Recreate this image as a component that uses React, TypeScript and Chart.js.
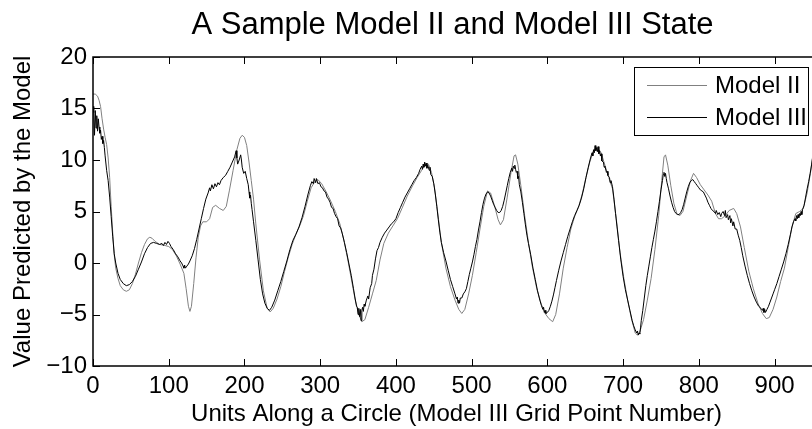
import React, { useEffect, useRef } from 'react';
import { Chart, registerables } from 'chart.js';

Chart.register(...registerables);

const titleText = 'A Sample Model II and Model III State';
const xLabel = 'Units Along a Circle (Model III Grid Point Number)';
const yLabel = 'Value Predicted by the Model';
const seriesNames = ['Model II', 'Model III'];
const seriesColors = ['#808080', '#000000'];

const xTicks = [0, 100, 200, 300, 400, 500, 600, 700, 800, 900];
const yTicks = [-10, -5, 0, 5, 10, 15, 20];
const xRange = [0, 960];
const yRange = [-10, 20];

const model2X = [0, 3, 6, 8, 10, 12, 14, 16, 18, 20, 22, 24, 26, 28, 30, 33, 36, 40, 44, 48, 52, 56, 60, 64, 68, 72, 75, 78, 82, 88, 95, 100, 105, 110, 115, 120, 123, 126, 128, 130, 133, 136, 139, 142, 145, 150, 154, 158, 162, 167, 172, 176, 180, 185, 190, 194, 197, 200, 203, 206, 209, 212, 215, 220, 225, 230, 234, 238, 243, 248, 253, 258, 263, 268, 273, 278, 283, 288, 293, 297, 302, 308, 314, 320, 326, 331, 336, 341, 346, 351, 355, 359, 364, 369, 374, 379, 384, 390, 396, 402, 408, 415, 422, 428, 434, 439, 443, 447, 451, 455, 460, 466, 472, 478, 483, 487, 491, 496, 501, 506, 511, 516, 521, 525, 530, 535, 538, 542, 547, 552, 556, 558, 561, 565, 570, 575, 580, 586, 592, 597, 602, 607, 611, 616, 621, 626, 631, 636, 641, 646, 651, 656, 661, 666, 671, 676, 681, 686, 691, 696, 701, 706, 711, 716, 719, 722, 727, 732, 737, 742, 747, 751, 754, 756, 759, 763, 767, 771, 775, 779, 784, 789, 793, 797, 802, 807, 812, 817, 822, 826, 830, 835, 840, 846, 850, 855, 860, 866, 872, 878, 884, 889, 893, 898, 903, 908, 913, 918, 923, 928, 933, 938, 943, 948, 953, 957, 960];
const model2Y = [16.4, 16.4, 16.2, 15.8, 15.2, 14.0, 13.0, 12.2, 11.5, 10.2, 8.3, 5.5, 3.0, 0.8, -0.5, -1.5, -2.2, -2.6, -2.75, -2.6, -2.0, -1.1, 0.0, 1.0, 1.8, 2.35, 2.5, 2.4, 2.1, 1.8, 1.7, 1.6, 1.3, 0.7, -0.1, -1.0, -2.5, -4.2, -4.7, -4.2, -2.0, 0.5, 2.5, 3.6, 4.0, 4.0, 4.3, 5.4, 5.6, 5.3, 5.1, 5.5, 7.0, 9.0, 11.0, 12.1, 12.4, 12.2, 11.4, 9.8, 8.0, 6.2, 3.8, 0.3, -2.7, -4.4, -4.75, -4.4, -3.5, -2.3, -0.8, 0.6, 1.8, 2.8, 3.6, 4.6, 6.0, 7.3, 7.9, 8.1, 7.7, 6.9, 6.0, 5.0, 3.8, 2.3, 0.5, -1.5, -3.5, -5.0, -5.7, -5.5, -4.3, -3.0, -1.7, 0.3, 1.9, 2.9, 3.6, 4.3, 5.3, 6.5, 7.5, 8.3, 9.0, 9.6, 9.6, 8.8, 7.3, 5.0, 2.0, -0.5, -2.3, -3.6, -4.5, -4.9, -4.5, -3.0, -1.2, 1.0, 3.3, 5.5, 7.0, 6.8, 5.6, 4.2, 3.7, 4.2, 6.4, 8.8, 10.4, 10.5, 9.6, 7.5, 4.6, 2.0, -0.3, -2.5, -4.0, -4.9, -5.4, -5.7, -5.0, -3.0, -0.5, 1.5, 3.3, 4.5, 5.4, 6.7, 8.3, 9.8, 10.9, 11.2, 10.7, 9.5, 8.3, 7.2, 4.3, 1.0, -1.5, -3.6, -5.4, -6.8, -7.0, -6.7, -5.5, -3.6, -1.5, 1.3, 4.6, 8.0, 10.3, 10.5, 9.5, 7.5, 5.8, 4.8, 4.6, 5.0, 6.5, 8.0, 8.7, 8.3, 7.6, 7.1, 6.6, 6.0, 4.8, 4.3, 4.3, 4.6, 5.1, 5.3, 4.8, 3.5, 1.5, -0.8, -2.5, -3.9, -4.9, -5.4, -5.3, -4.5, -3.3, -1.8, -0.5, 1.5, 3.5, 4.8, 5.0, 5.3, 6.8, 9.0, 12.0, 14.8, 16.4];

const model3X = [0, 1, 2, 3, 4, 5, 6, 7, 8, 9, 10, 11, 12, 13, 14, 15, 16, 18, 20, 22, 24, 26, 28, 30, 33, 36, 40, 44, 48, 52, 56, 60, 64, 68, 72, 76, 80, 84, 88, 91, 93, 95, 97, 99, 101, 103, 106, 109, 112, 115, 117, 119, 120, 121, 122, 124, 126, 128, 131, 134, 137, 140, 143, 146, 149, 152, 154, 155, 157, 159, 161, 163, 165, 167, 169, 172, 175, 178, 181, 184, 187, 189, 190, 191, 193, 195, 196, 197, 199, 201, 203, 205, 206, 207, 208, 209, 210, 212, 215, 218, 221, 224, 227, 230, 233, 236, 240, 244, 248, 252, 256, 260, 264, 268, 272, 276, 280, 284, 287, 289, 291, 292, 294, 295, 297, 299, 301, 303, 305, 307, 309, 311, 313, 315, 317, 319, 321, 323, 325, 327, 329, 332, 335, 338, 341, 344, 346, 348, 349, 350, 351, 352, 353, 354, 355, 356, 357, 358, 359, 361, 363, 364, 366, 368, 369, 371, 373, 375, 377, 379, 382, 385, 388, 391, 394, 397, 400, 403, 406, 409, 412, 415, 418, 421, 424, 427, 430, 432, 434, 435, 436, 437, 438, 439, 440, 441, 442, 444, 445, 446, 448, 450, 452, 454, 456, 458, 460, 463, 466, 469, 472, 475, 478, 480, 481, 482, 483, 484, 485, 487, 489, 491, 493, 495, 497, 499, 501, 503, 505, 507, 509, 511, 513, 515, 517, 519, 521, 523, 525, 527, 529, 531, 533, 535, 537, 539, 541, 543, 545, 547, 549, 551, 553, 554, 555, 556, 557, 558, 559, 560, 561, 562, 563, 565, 567, 569, 571, 573, 575, 578, 581, 584, 587, 590, 592, 594, 595, 596, 597, 598, 600, 602, 604, 606, 608, 610, 612, 615, 618, 621, 624, 627, 630, 633, 636, 639, 642, 645, 648, 651, 654, 657, 659, 660, 661, 662, 663, 664, 665, 666, 667, 668, 669, 670, 671, 672, 674, 675, 676, 678, 679, 680, 682, 683, 684, 686, 688, 690, 692, 694, 697, 700, 703, 706, 709, 712, 714, 716, 718, 719, 720, 721, 722, 723, 724, 726, 728, 730, 732, 734, 736, 738, 740, 742, 744, 746, 748, 750, 752, 753, 754, 755, 756, 757, 758, 760, 762, 764, 766, 768, 770, 772, 774, 776, 778, 780, 782, 784, 786, 788, 790, 792, 794, 796, 798, 800, 802, 804, 806, 808, 810, 812, 814, 816, 818, 820, 822, 823, 825, 827, 829, 830, 832, 834, 835, 836, 838, 839, 841, 842, 843, 845, 846, 848, 850, 852, 854, 856, 858, 861, 864, 867, 870, 873, 876, 879, 882, 884, 885, 886, 887, 888, 890, 892, 894, 896, 898, 900, 903, 906, 909, 912, 915, 918, 921, 923, 925, 927, 928, 929, 930, 931, 932, 933, 934, 935, 936, 937, 939, 941, 943, 945, 947, 949, 951, 953, 955, 957, 959, 960];
const model3Y = [15.2, 14.6, 12.4, 14.8, 13.1, 14.3, 12.8, 14.0, 13.2, 12.6, 12.9, 12.0, 12.3, 11.6, 11.9, 11.2, 10.4, 9.0, 8.0, 6.4, 4.5, 2.6, 0.9, 0.0, -1.0, -1.6, -2.0, -2.2, -2.1, -1.8, -1.3, -0.6, 0.1, 0.9, 1.5, 1.9, 2.0, 1.9, 1.8, 1.9, 1.7, 2.0, 1.8, 2.1, 1.9, 1.6, 1.3, 0.9, 0.6, 0.2, 0.0, -0.3, -0.5, -0.2, -0.5, -0.3, -0.1, 0.2, 0.7, 1.4, 2.3, 3.3, 4.3, 5.3, 6.2, 6.8, 7.3, 7.0, 7.6, 7.2, 7.7, 7.4, 7.8, 7.6, 8.0, 8.3, 8.5, 8.9, 9.3, 9.8, 10.3, 10.9, 10.2, 9.6, 10.0, 10.5, 10.0, 9.3, 8.7, 8.9, 8.2, 7.6, 6.9, 6.3, 6.6, 5.8, 5.2, 4.0, 2.2, 0.3, -1.6, -3.0, -3.9, -4.4, -4.6, -4.3, -3.6, -2.7, -1.8, -0.8, 0.2, 1.3, 2.2, 2.8, 3.5, 4.4, 5.5, 6.7, 7.5, 7.9, 7.7, 8.2, 7.8, 8.2, 7.7, 7.8, 7.4, 7.3, 7.0, 6.9, 6.4, 6.2, 5.9, 5.4, 5.3, 4.8, 4.5, 4.3, 3.6, 3.4, 2.9, 2.0, 1.0, -0.1, -1.2, -2.5, -3.4, -4.2, -4.3, -5.0, -4.4, -5.2, -4.5, -5.6, -4.6, -4.3, -4.7, -4.0, -4.2, -3.6, -3.2, -3.5, -2.4, -2.0, -1.2, -0.6, 0.4, 1.2, 1.5, 2.0, 2.5, 2.9, 3.2, 3.5, 3.8, 4.0, 4.3, 4.9, 5.4, 5.9, 6.4, 6.8, 7.2, 7.6, 8.0, 8.3, 8.7, 9.1, 9.4, 9.1, 9.6, 9.3, 9.8, 9.4, 9.7, 9.2, 9.5, 9.0, 9.3, 8.6, 8.4, 7.7, 6.7, 5.5, 4.2, 3.0, 2.0, 1.0, 0.2, -0.7, -1.6, -2.3, -3.0, -3.5, -3.3, -3.9, -3.6, -3.9, -3.4, -3.4, -3.0, -2.8, -2.5, -1.8, -1.1, -0.5, 0.1, 0.8, 1.6, 2.3, 3.2, 4.0, 4.9, 5.7, 6.3, 6.7, 6.9, 6.8, 6.5, 6.1, 5.7, 5.4, 5.1, 4.9, 4.9, 5.1, 5.5, 6.1, 6.8, 7.5, 8.2, 8.8, 9.2, 8.9, 9.4, 9.2, 9.5, 9.1, 8.8, 8.9, 8.2, 8.4, 7.6, 6.9, 5.9, 4.8, 3.7, 2.7, 1.9, 0.8, -0.5, -1.6, -2.7, -3.6, -4.1, -4.5, -4.3, -4.8, -4.6, -4.9, -4.8, -4.6, -4.2, -3.7, -3.1, -2.4, -1.7, -0.7, 0.2, 1.0, 1.8, 2.6, 3.3, 4.0, 4.6, 5.1, 5.6, 6.3, 7.2, 8.3, 9.3, 10.2, 10.7, 10.4, 11.0, 10.7, 11.4, 10.9, 11.2, 10.8, 11.3, 10.6, 10.9, 10.4, 10.6, 9.9, 9.8, 9.3, 9.4, 8.8, 8.9, 8.5, 8.3, 7.8, 8.0, 7.4, 6.2, 4.8, 3.5, 2.2, 0.3, -1.3, -2.6, -3.6, -4.6, -5.6, -6.1, -6.5, -6.8, -6.6, -7.0, -6.8, -6.9, -6.3, -5.6, -4.6, -3.4, -2.2, -1.2, -0.3, 0.6, 1.5, 2.3, 3.1, 4.0, 5.0, 6.0, 7.1, 8.0, 8.6, 8.8, 8.4, 8.7, 8.2, 7.8, 7.2, 6.5, 5.9, 5.4, 5.0, 4.8, 4.7, 4.7, 4.9, 5.2, 5.7, 6.3, 6.9, 7.4, 7.8, 8.0, 8.1, 7.9, 7.7, 7.5, 7.3, 7.1, 7.0, 6.9, 6.6, 6.3, 5.9, 5.6, 5.3, 5.1, 5.0, 4.8, 5.1, 4.7, 4.9, 4.5, 4.8, 5.0, 4.6, 5.1, 4.4, 4.7, 4.2, 4.6, 3.9, 4.3, 3.6, 4.0, 3.3, 3.3, 2.7, 2.2, 1.5, 0.7, -0.3, -1.2, -2.0, -2.7, -3.3, -3.8, -4.2, -4.4, -4.6, -4.4, -4.8, -4.5, -4.8, -4.5, -4.2, -3.8, -3.4, -3.0, -2.6, -2.0, -1.3, -0.6, 0.1, 0.9, 1.8, 2.8, 3.5, 4.0, 4.3, 4.1, 4.6, 4.3, 4.7, 4.4, 4.8, 4.6, 5.0, 4.7, 5.2, 5.6, 6.4, 7.2, 7.9, 8.7, 9.6, 10.6, 11.7, 12.8, 13.8, 14.8, 15.2];

const FONT = '"Liberation Sans", Arial, Helvetica, sans-serif';

const toPoints = (xs: number[], ys: number[]) => xs.map((x, i) => ({ x, y: ys[i] }));
const fmt = (v: number) => (v < 0 ? '\u2212' + Math.abs(v) : String(v));

const matlabAxes = {
  id: 'matlabAxes',
  afterDraw(chart: any) {
    const { ctx, chartArea, scales } = chart;
    const { left, right, top, bottom } = chartArea;
    ctx.save();
    // box
    ctx.strokeStyle = '#000';
    ctx.lineWidth = 1.5;
    ctx.strokeRect(left, top, right - left, bottom - top);
    // inward ticks
    const tl = 7;
    ctx.lineWidth = 1;
    ctx.beginPath();
    xTicks.forEach((v) => {
      const px = Math.round(scales.x.getPixelForValue(v)) + 0.5;
      ctx.moveTo(px, bottom);
      ctx.lineTo(px, bottom - tl);
      ctx.moveTo(px, top);
      ctx.lineTo(px, top + tl);
    });
    yTicks.forEach((v) => {
      const py = Math.round(scales.y.getPixelForValue(v)) + 0.5;
      ctx.moveTo(left, py);
      ctx.lineTo(left + tl, py);
      ctx.moveTo(right, py);
      ctx.lineTo(right - tl, py);
    });
    ctx.stroke();
    // title
    ctx.fillStyle = '#000';
    ctx.font = `31px ${FONT}`;
    ctx.textAlign = 'center';
    ctx.textBaseline = 'alphabetic';
    ctx.fillText(titleText, (left + right) / 2 - 4, 34);
    // legend
    const bx = right - 186;
    const by = top + 9.5;
    const bw = 174;
    const bh = 68;
    ctx.fillStyle = '#fff';
    ctx.fillRect(bx, by, bw, bh);
    ctx.strokeStyle = '#000';
    ctx.lineWidth = 1;
    ctx.strokeRect(Math.round(bx) + 0.5, Math.round(by) + 0.5, bw, bh);
    ctx.font = `24px ${FONT}`;
    ctx.textAlign = 'left';
    ctx.textBaseline = 'middle';
    seriesNames.forEach((name, i) => {
      const ly = Math.round(by + 18 + i * 32) + 0.5;
      ctx.strokeStyle = seriesColors[i];
      ctx.beginPath();
      ctx.moveTo(bx + 13, ly);
      ctx.lineTo(bx + 73, ly);
      ctx.stroke();
      ctx.fillStyle = '#000';
      ctx.fillText(name, bx + 81, ly + 1);
    });
    ctx.restore();
  },
};

export default function App() {
  const ref = useRef<HTMLCanvasElement | null>(null);
  useEffect(() => {
    if (!ref.current) return;
    const chart = new Chart(ref.current, {
      type: 'line',
      data: {
        datasets: [
          {
            label: seriesNames[0],
            data: toPoints(model2X, model2Y),
            borderColor: seriesColors[0],
            borderWidth: 1,
            pointRadius: 0,
            tension: 0,
            fill: false,
            order: 1,
          },
          {
            label: seriesNames[1],
            data: toPoints(model3X, model3Y),
            borderColor: seriesColors[1],
            borderWidth: 1,
            pointRadius: 0,
            tension: 0,
            fill: false,
            order: 0,
          },
        ],
      },
      options: {
        animation: false,
        responsive: false,
        devicePixelRatio: 1,
        layout: { padding: { top: 57, left: 0, right: 20, bottom: 0 } },
        plugins: {
          legend: { display: false },
          title: { display: false },
          tooltip: { enabled: false },
        },
        scales: {
          x: {
            type: 'linear',
            min: xRange[0],
            max: xRange[1],
            afterBuildTicks: (s: any) => {
              s.ticks = xTicks.map((v) => ({ value: v }));
            },
            afterFit: (s: any) => {
              s.height = 63;
            },
            grid: { display: false, drawTicks: false },
            border: { display: false },
            ticks: {
              color: '#000',
              font: { family: FONT, size: 24 },
              padding: 6,
              maxRotation: 0,
              autoSkip: false,
              callback: (v: any) => fmt(Number(v)),
            },
            title: {
              display: true,
              text: xLabel,
              color: '#000',
              font: { family: FONT, size: 24 },
              padding: { top: 0, bottom: 0 },
            },
          },
          y: {
            type: 'linear',
            min: yRange[0],
            max: yRange[1],
            afterBuildTicks: (s: any) => {
              s.ticks = yTicks.map((v) => ({ value: v }));
            },
            afterFit: (s: any) => {
              s.width = 93;
            },
            grid: { display: false, drawTicks: false },
            border: { display: false },
            ticks: {
              color: '#000',
              font: { family: FONT, size: 24 },
              padding: 6,
              autoSkip: false,
              callback: (v: any) => fmt(Number(v)),
            },
            title: {
              display: true,
              text: yLabel,
              color: '#000',
              font: { family: FONT, size: 24 },
              padding: { top: 9, bottom: 0 },
            },
          },
        },
      },
      plugins: [matlabAxes],
    } as any);
    return () => chart.destroy();
  }, []);
  return (
    <div
      style={{
        position: 'fixed',
        left: 0,
        top: 0,
        width: 812,
        height: 429,
        overflow: 'hidden',
        background: '#fff',
      }}
    >
      <canvas ref={ref} width={840} height={429} style={{ display: 'block', width: 840, height: 429 }} />
    </div>
  );
}
